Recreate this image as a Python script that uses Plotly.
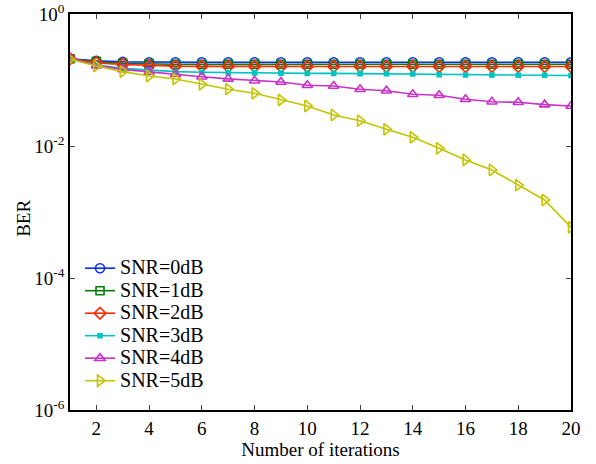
import plotly.graph_objects as go

iterations = list(range(1, 21))

ber_0db = [0.21, 0.195, 0.188, 0.186, 0.186, 0.186, 0.186, 0.186, 0.186, 0.186,
           0.186, 0.186, 0.186, 0.186, 0.186, 0.186, 0.186, 0.186, 0.186, 0.186]
ber_1db = [0.21, 0.19, 0.178, 0.174, 0.173, 0.173, 0.173, 0.173, 0.173, 0.173,
           0.173, 0.173, 0.173, 0.173, 0.173, 0.173, 0.173, 0.173, 0.173, 0.173]
ber_2db = [0.21, 0.182, 0.172, 0.165, 0.162, 0.161, 0.16, 0.16, 0.16, 0.16,
           0.16, 0.16, 0.16, 0.16, 0.16, 0.16, 0.16, 0.16, 0.16, 0.16]
ber_3db = [0.21, 0.168, 0.15, 0.142, 0.134, 0.131, 0.129, 0.128, 0.127, 0.126,
           0.126, 0.125, 0.125, 0.124, 0.12, 0.119, 0.119, 0.118, 0.118, 0.117]
ber_4db = [0.215, 0.165, 0.145, 0.132, 0.122, 0.112, 0.104, 0.0975, 0.0933, 0.0832,
           0.081, 0.0723, 0.0689, 0.0607, 0.0586, 0.051, 0.0469, 0.0459, 0.0423, 0.0404]
ber_5db = [0.206, 0.163, 0.134, 0.115, 0.1035, 0.0861, 0.0726, 0.0628, 0.0498, 0.0404,
           0.0295, 0.0242, 0.0179, 0.01355, 0.00923, 0.00614, 0.00433, 0.00256, 0.00152, 0.000586]

series_names = ["SNR=0dB", "SNR=1dB", "SNR=2dB", "SNR=3dB", "SNR=4dB", "SNR=5dB"]
series_values = [ber_0db, ber_1db, ber_2db, ber_3db, ber_4db, ber_5db]
colors = ["#0a2cff", "#008000", "#ff2a00", "#00c4c4", "#c832c8", "#c4c400"]
symbols = ["circle-open", "square-open", "diamond-open", "square", "triangle-up-open", "triangle-right-open"]
sizes = [9, 8, 9, 4, 9, 10]

y_tickvals = [1e-6, 1e-4, 1e-2, 1]
y_ticktext = ["10<sup>-6</sup>", "10<sup>-4</sup>", "10<sup>-2</sup>", "10<sup>0</sup>"]
x_tickvals = [2, 4, 6, 8, 10, 12, 14, 16, 18, 20]

FONT = "Liberation Serif, Times New Roman, serif"

fig = go.Figure()
for name, vals, c, s, sz in zip(series_names, series_values, colors, symbols, sizes):
    fig.add_trace(go.Scatter(
        x=iterations, y=vals, name='<span style="font-size:20px">%s</span>' % name,
        mode="lines+markers",
        line=dict(color=c, width=1.6),
        marker=dict(symbol=s, size=sz, color=c, line=dict(color=c, width=1.6)),
    ))

fig.update_layout(
    width=596, height=464,
    margin=dict(l=70, r=25, t=14, b=54),
    paper_bgcolor="white", plot_bgcolor="white",
    font=dict(family=FONT, size=18, color="black"),
    showlegend=True,
    legend=dict(x=0.02, y=0.033, xanchor="left", yanchor="bottom",
                bgcolor="rgba(0,0,0,0)", font=dict(family=FONT, size=15, color="black"),
                tracegroupgap=0),
    annotations=[dict(text="BER", xref="paper", yref="paper", x=-0.092, y=0.485,
                      textangle=-90, showarrow=False, xanchor="center", yanchor="middle",
                      font=dict(family=FONT, size=19, color="black"))],
)
fig.update_xaxes(
    range=[1, 20], tickvals=x_tickvals, ticks="inside", ticklen=5,
    showline=True, linecolor="black", linewidth=1.5, mirror="ticks",
    showgrid=False, zeroline=False, automargin=False,
    tickfont=dict(family=FONT, size=19, color="black"),
    title=dict(text="Number of iterations", standoff=2, font=dict(family=FONT, size=19, color="black")),
)
fig.update_yaxes(
    type="log", range=[-6, 0], tickvals=y_tickvals, ticktext=y_ticktext,
    ticks="inside", ticklen=5,
    showline=True, linecolor="black", linewidth=1.5, mirror="ticks",
    showgrid=False, zeroline=False, automargin=False,
    tickfont=dict(family=FONT, size=19, color="black"),
)
fig.write_html("out.html", config={"displayModeBar": False},
               post_script="document.body.style.margin='0px';")
